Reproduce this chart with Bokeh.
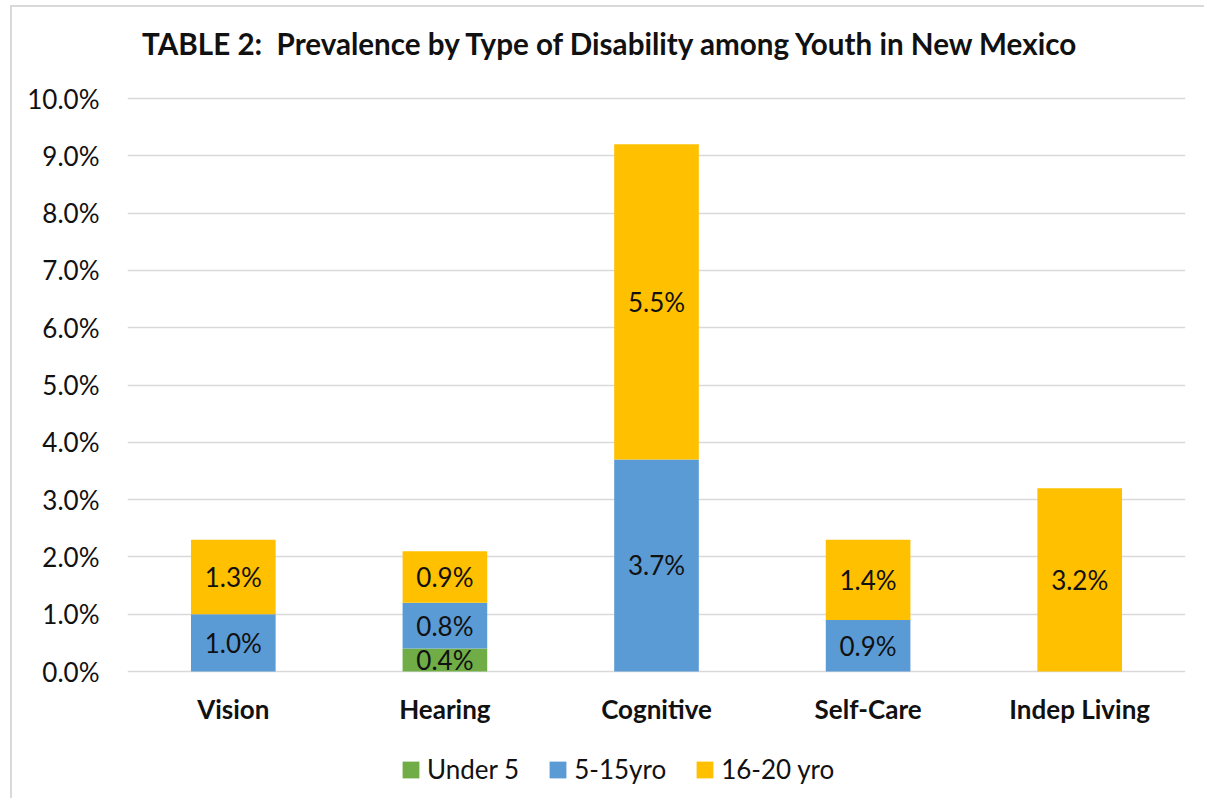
from bokeh.plotting import figure
from bokeh.models import Label, FixedTicker, PrintfTickFormatter, ColumnDataSource, Range1d, FactorRange
from bokeh.core.properties import value
from bokeh.embed import file_html
from bokeh.resources import INLINE

categories = ["Vision", "Hearing", "Cognitive", "Self-Care", "Indep Living"]
series_names = ["Under 5", "5-15yro", "16-20 yro"]
under5 = [0.0, 0.4, 0.0, 0.0, 0.0]
yro5_15 = [1.0, 0.8, 3.7, 0.9, 0.0]
yro16_20 = [1.3, 0.9, 5.5, 1.4, 3.2]
y_ticks = [0, 1, 2, 3, 4, 5, 6, 7, 8, 9, 10]
title_text = "TABLE 2:\u00a0 Prevalence by Type of Disability among Youth in New Mexico"

colors = ["#70ad47", "#5b9bd5", "#ffc000"]
FONT = "Lato"
TXT = "#111111"

W, H = 1194, 793
PX_PER_UNIT = 57.3
FRAME_ZERO_FROM_TOP = 664   # pixels from canvas top to the 0% line

src = ColumnDataSource(data=dict(cat=categories, u5=under5, a=yro5_15, b=yro16_20))

p = figure(x_range=FactorRange(*categories, range_padding=0),
           y_range=Range1d(-(H - FRAME_ZERO_FROM_TOP) / PX_PER_UNIT, FRAME_ZERO_FROM_TOP / PX_PER_UNIT),
           width=W, height=H, output_backend="svg", toolbar_location=None,
           min_border_left=115, min_border_right=21, min_border_top=0, min_border_bottom=0)
p.styles = {"border-left": "2px solid #d9d9d9", "border-top": "2px solid #d9d9d9",
            "margin-left": "10px", "margin-top": "5px"}
p.outline_line_color = None

p.vbar_stack(["u5", "a", "b"], x="cat", width=0.4, color=colors, line_color=None,
             source=src, legend_label=series_names)

# segment labels
lx, ly, lt = [], [], []
for i, c in enumerate(categories):
    base = 0.0
    for vals in (under5, yro5_15, yro16_20):
        v = vals[i]
        if v > 0:
            lx.append(c)
            ly.append(base + v / 2)
            lt.append(f"{v:.1f}%")
        base += v
p.text(x=lx, y=ly, text=lt, text_align="center", text_baseline="middle",
       text_font=value(FONT), text_font_size="26px", text_color=TXT)

# category labels (drawn below the 0 line)
p.text(x=categories, y=[0] * len(categories), text=categories, y_offset=37,
       text_align="center", text_baseline="middle", text_font=value(FONT),
       text_font_style="bold", text_font_size="26px", text_color=TXT)

# axes
p.xaxis.visible = False
p.yaxis.ticker = FixedTicker(ticks=y_ticks)
p.yaxis.formatter = PrintfTickFormatter(format="%.1f%%")
p.yaxis.axis_line_color = None
p.yaxis.major_tick_line_color = None
p.yaxis.minor_tick_line_color = None
p.yaxis.major_tick_out = 0
p.yaxis.major_label_standoff = 28
p.yaxis.major_label_text_font = FONT
p.yaxis.major_label_text_font_size = "26px"
p.yaxis.major_label_text_color = TXT

p.xgrid.grid_line_color = None
p.ygrid.grid_line_color = "#d9d9d9"
p.ygrid.grid_line_width = 1.5

# title
p.add_layout(Label(x=484, y=H - 36, x_units="screen", y_units="screen", text=title_text,
                   text_align="center", text_baseline="middle", text_font=FONT,
                   text_font_style="bold", text_font_size="29.6px", text_color=TXT))

# legend
lg = p.legend[0]
lg.orientation = "horizontal"
lg.location = (273, 15)
lg.margin = 0
lg.padding = 0
lg.border_line_color = None
lg.background_fill_alpha = 0
lg.glyph_width = 21
lg.glyph_height = 21
lg.label_standoff = 6
lg.spacing = 28
lg.label_text_font = FONT
lg.label_text_font_size = "26px"
lg.label_text_color = TXT

open("out.html", "w").write(file_html(p, INLINE))
